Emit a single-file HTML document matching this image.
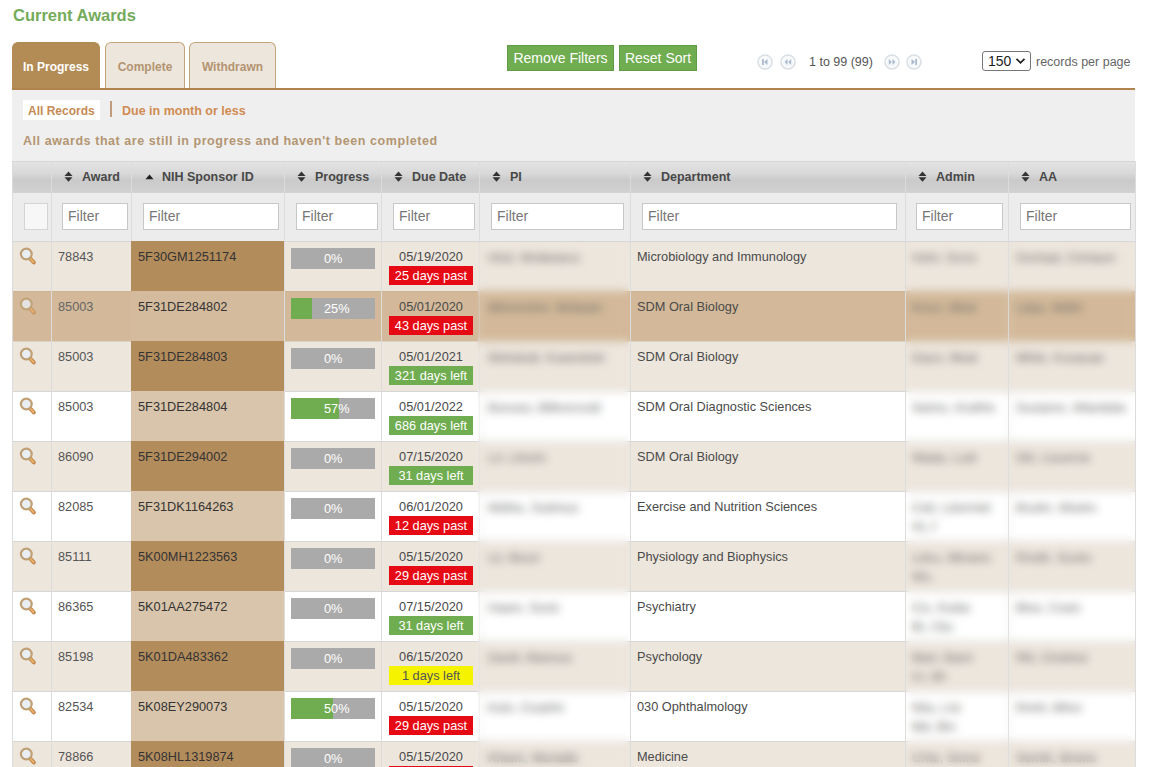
<!DOCTYPE html><html><head><meta charset="utf-8"><style>
*{box-sizing:border-box;margin:0;padding:0}
html,body{width:1150px;height:767px;overflow:hidden;background:#fff;font-family:"Liberation Sans",sans-serif}
div{position:absolute;white-space:nowrap}
svg{position:absolute}
#title{left:13px;top:6px;font-size:16.5px;font-weight:bold;color:#74ab5b}
.tab{top:42px;height:47px;border:1px solid #c2a47c;border-bottom:none;border-radius:6px 6px 0 0;background:#ede6dd;color:#b39470;font-weight:bold;font-size:12px;text-align:center;line-height:48px}
.tab.on{background:#b38b55;border-color:#b38b55;color:#fff}
.btn{top:45px;height:26px;background:#6fad50;border:1px solid #5f9a44;color:#fff;font-size:14px;line-height:24px;text-align:center}
.hd{top:161px;height:32px;background:linear-gradient(#e4e4e4,#d8d8d8 40%,#cacaca 60%,#d2d2d2)}
.ht{top:169px;font-size:12.5px;font-weight:bold;color:#484848;line-height:16px}
.flt{top:203px;height:27px;background:#fff;border:1px solid #c8c8c8;font-size:14px;color:#777;padding-left:5px;line-height:25px}
.row{left:12px;width:1123px;height:50px}
.cell{font-size:12.75px;color:#555;line-height:16px}
.bar{width:84px;height:21px;background:#aaa;overflow:hidden}
.bar i{position:absolute;left:0;top:0;height:21px;background:#6fad50}
.bar b{position:absolute;left:33px;top:0;color:#fff;font-weight:normal;font-size:12.75px;line-height:21px}
.badge{width:84px;height:19px;text-align:center;color:#fff;font-size:12.75px;line-height:19px}
.vl{width:1px;background:#dcdcdc}
.hl{left:12px;width:1123px;height:1px;background:#d6d6d6}
.bt{overflow:hidden;color:#6a6a6a}
</style></head><body>
<div id="title">Current Awards</div>
<div class="tab on" style="left:12px;width:88px">In Progress</div>
<div class="tab" style="left:105px;width:80px">Complete</div>
<div class="tab" style="left:189px;width:87px">Withdrawn</div>
<div style="left:12px;top:88px;width:1123px;height:2px;background:#b0844c"></div>
<div style="left:12px;top:90px;width:1123px;height:71px;background:#efefef"></div>
<div style="left:23px;top:100px;width:77px;height:20px;background:#fff"></div>
<div style="left:28px;top:103px;font-size:12px;font-weight:bold;color:#c68b55;line-height:16px">All Records</div>
<div style="left:110px;top:101px;width:2px;height:16px;background:#c09c7c"></div>
<div style="left:122px;top:103px;font-size:12.5px;font-weight:bold;color:#d08c52;line-height:16px">Due in month or less</div>
<div style="left:23px;top:133px;font-size:12.5px;font-weight:bold;color:#b39672;line-height:16px;letter-spacing:0.56px">All awards that are still in progress and haven&#39;t been completed</div>
<div class="btn" style="left:507px;width:107px">Remove Filters</div>
<div class="btn" style="left:619px;width:78px">Reset Sort</div>
<svg style="left:757px;top:54px" width="16" height="16"><circle cx="8" cy="8" r="7" fill="#f7f9fb" stroke="#dadfe4" stroke-width="1.5"/><rect x="5" y="5" width="1.8" height="6" fill="#aabbcf"/><polygon points="10.5,5 7,8 10.5,11" fill="#aabbcf"/></svg>
<svg style="left:780px;top:54px" width="16" height="16"><circle cx="8" cy="8" r="7" fill="#f7f9fb" stroke="#dadfe4" stroke-width="1.5"/><polygon points="7.5,5 4.5,8 7.5,11" fill="#aabbcf"/><polygon points="11.2,5 8.2,8 11.2,11" fill="#aabbcf"/></svg>
<svg style="left:884px;top:54px" width="16" height="16"><circle cx="8" cy="8" r="7" fill="#f7f9fb" stroke="#dadfe4" stroke-width="1.5"/><polygon points="4.8,5 7.8,8 4.8,11" fill="#aabbcf"/><polygon points="8.5,5 11.5,8 8.5,11" fill="#aabbcf"/></svg>
<svg style="left:906px;top:54px" width="16" height="16"><circle cx="8" cy="8" r="7" fill="#f7f9fb" stroke="#dadfe4" stroke-width="1.5"/><polygon points="5.5,5 9,8 5.5,11" fill="#aabbcf"/><rect x="9.2" y="5" width="1.8" height="6" fill="#aabbcf"/></svg>
<div style="left:809px;top:54px;font-size:12.5px;color:#555;line-height:16px">1 to 99 (99)</div>
<div style="left:982px;top:51px;width:49px;height:20px;border:1px solid #767676;border-radius:3px;background:#fff"></div>
<div style="left:988px;top:53px;font-size:14px;color:#222;line-height:16px">150</div>
<svg style="left:1015px;top:57px" width="12" height="8"><polyline points="1.5,1.8 5.5,5.8 9.5,1.8" fill="none" stroke="#222" stroke-width="1.8"/></svg>
<div style="left:1036px;top:54px;font-size:12.5px;color:#666;line-height:16px">records per page</div>
<div class="hd" style="left:12px;width:1123px"></div>
<div style="left:12px;top:193px;width:1123px;height:48px;background:#ececec"></div>
<div class="hl" style="top:161px"></div>
<div class="ht" style="left:82px">Award</div>
<svg style="left:64px;top:171px" width="9" height="12"><polygon points="0.5,5 4.5,0.6 8.5,5" fill="#333"/><polygon points="0.5,6.2 4.5,10.8 8.5,6.2" fill="#333"/></svg>
<div class="ht" style="left:162px">NIH Sponsor ID</div>
<svg style="left:145px;top:174px" width="9" height="6"><polygon points="0.5,5.2 4.5,0.5 8.5,5.2" fill="#222"/></svg>
<div class="ht" style="left:315px">Progress</div>
<svg style="left:297px;top:171px" width="9" height="12"><polygon points="0.5,5 4.5,0.6 8.5,5" fill="#333"/><polygon points="0.5,6.2 4.5,10.8 8.5,6.2" fill="#333"/></svg>
<div class="ht" style="left:412px">Due Date</div>
<svg style="left:394px;top:171px" width="9" height="12"><polygon points="0.5,5 4.5,0.6 8.5,5" fill="#333"/><polygon points="0.5,6.2 4.5,10.8 8.5,6.2" fill="#333"/></svg>
<div class="ht" style="left:510px">PI</div>
<svg style="left:492px;top:171px" width="9" height="12"><polygon points="0.5,5 4.5,0.6 8.5,5" fill="#333"/><polygon points="0.5,6.2 4.5,10.8 8.5,6.2" fill="#333"/></svg>
<div class="ht" style="left:661px">Department</div>
<svg style="left:643px;top:171px" width="9" height="12"><polygon points="0.5,5 4.5,0.6 8.5,5" fill="#333"/><polygon points="0.5,6.2 4.5,10.8 8.5,6.2" fill="#333"/></svg>
<div class="ht" style="left:936px">Admin</div>
<svg style="left:918px;top:171px" width="9" height="12"><polygon points="0.5,5 4.5,0.6 8.5,5" fill="#333"/><polygon points="0.5,6.2 4.5,10.8 8.5,6.2" fill="#333"/></svg>
<div class="ht" style="left:1039px">AA</div>
<svg style="left:1021px;top:171px" width="9" height="12"><polygon points="0.5,5 4.5,0.6 8.5,5" fill="#333"/><polygon points="0.5,6.2 4.5,10.8 8.5,6.2" fill="#333"/></svg>
<div class="flt" style="left:62px;width:66px">Filter</div>
<div class="flt" style="left:143px;width:136px">Filter</div>
<div class="flt" style="left:296px;width:82px">Filter</div>
<div class="flt" style="left:393px;width:82px">Filter</div>
<div class="flt" style="left:491px;width:133px">Filter</div>
<div class="flt" style="left:642px;width:255px">Filter</div>
<div class="flt" style="left:916px;width:87px">Filter</div>
<div class="flt" style="left:1020px;width:111px">Filter</div>
<div style="left:24px;top:203px;width:24px;height:27px;background:#f7f7f7;border:1px solid #d4d4d4"></div>
<div class="row" style="top:241px;background:#ede6dd"></div>
<div class="hl" style="top:241px;background:#d6d6d6"></div>
<div class="cell" style="left:58px;top:249px">78843</div>
<svg style="left:18px;top:247px" width="20" height="20"><line x1="11.6" y1="10.8" x2="15.8" y2="15.4" stroke="#c08a52" stroke-width="4" stroke-linecap="round"/><line x1="12.2" y1="11.5" x2="15.4" y2="15" stroke="#e9ad68" stroke-width="2" stroke-linecap="round"/><circle cx="8.3" cy="7" r="5.4" fill="#e9eef3" stroke="#bf9f74" stroke-width="2.2"/></svg>
<div class="bar" style="left:291px;top:248px"><i style="width:0px"></i><b>0%</b></div>
<div class="cell" style="left:382px;width:98px;text-align:center;top:249px;color:#4a4a4a">05/19/2020</div>
<div class="badge" style="left:389px;top:266px;background:#e60a14;color:#fff">25 days past</div>
<div class="cell" style="left:637px;top:249px;color:#4a4a4a">Microbiology and Immunology</div>
<div class="cell bt" style="left:488px;top:250px;width:92px">Htsil, Wrdtetarus</div>
<div class="cell bt" style="left:912px;top:250px;width:65px">Hohr, Ssrndio</div>
<div class="cell bt" style="left:1016px;top:250px;width:100px">Dsnhad, Cimtaumaurt</div>
<div class="row" style="top:291px;background:#d3b999"></div>
<div class="hl" style="top:291px;background:#cbb394"></div>
<div class="cell" style="left:58px;top:299px;color:#666">85003</div>
<svg style="left:18px;top:297px;opacity:.8" width="20" height="20"><line x1="11.6" y1="10.8" x2="15.8" y2="15.4" stroke="#c08a52" stroke-width="4" stroke-linecap="round"/><line x1="12.2" y1="11.5" x2="15.4" y2="15" stroke="#e9ad68" stroke-width="2" stroke-linecap="round"/><circle cx="8.3" cy="7" r="5.4" fill="#e9eef3" stroke="#bf9f74" stroke-width="2.2"/></svg>
<div class="bar" style="left:291px;top:298px"><i style="width:21px"></i><b>25%</b></div>
<div class="cell" style="left:382px;width:98px;text-align:center;top:299px;color:#4a4a4a">05/01/2020</div>
<div class="badge" style="left:389px;top:316px;background:#e60a14;color:#fff">43 days past</div>
<div class="cell" style="left:637px;top:299px;color:#4a4a4a">SDM Oral Biology</div>
<div class="cell bt" style="left:488px;top:300px;width:115px">Mhmnnhm, Wrileairoudn</div>
<div class="cell bt" style="left:912px;top:300px;width:65px">Knsn, Wlstnto</div>
<div class="cell bt" style="left:1016px;top:300px;width:66px">Ldau, Wdhihlst</div>
<div class="row" style="top:341px;background:#ede6dd"></div>
<div class="hl" style="top:341px;background:#ddd3c7"></div>
<div class="cell" style="left:58px;top:349px">85003</div>
<svg style="left:18px;top:347px" width="20" height="20"><line x1="11.6" y1="10.8" x2="15.8" y2="15.4" stroke="#c08a52" stroke-width="4" stroke-linecap="round"/><line x1="12.2" y1="11.5" x2="15.4" y2="15" stroke="#e9ad68" stroke-width="2" stroke-linecap="round"/><circle cx="8.3" cy="7" r="5.4" fill="#e9eef3" stroke="#bf9f74" stroke-width="2.2"/></svg>
<div class="bar" style="left:291px;top:348px"><i style="width:0px"></i><b>0%</b></div>
<div class="cell" style="left:382px;width:98px;text-align:center;top:349px;color:#4a4a4a">05/01/2021</div>
<div class="badge" style="left:389px;top:366px;background:#6fad50;color:#fff">321 days left</div>
<div class="cell" style="left:637px;top:349px;color:#4a4a4a">SDM Oral Biology</div>
<div class="cell bt" style="left:488px;top:350px;width:117px">Wehdodt, Kueerdrelmen</div>
<div class="cell bt" style="left:912px;top:350px;width:65px">Daun, Meattma</div>
<div class="cell bt" style="left:1016px;top:350px;width:88px">Mhtls, Ksoauaeets</div>
<div class="row" style="top:391px;background:#fff"></div>
<div class="hl" style="top:391px;background:#d6d6d6"></div>
<div class="cell" style="left:58px;top:399px">85003</div>
<svg style="left:18px;top:397px" width="20" height="20"><line x1="11.6" y1="10.8" x2="15.8" y2="15.4" stroke="#c08a52" stroke-width="4" stroke-linecap="round"/><line x1="12.2" y1="11.5" x2="15.4" y2="15" stroke="#e9ad68" stroke-width="2" stroke-linecap="round"/><circle cx="8.3" cy="7" r="5.4" fill="#e9eef3" stroke="#bf9f74" stroke-width="2.2"/></svg>
<div class="bar" style="left:291px;top:398px"><i style="width:48px"></i><b>57%</b></div>
<div class="cell" style="left:382px;width:98px;text-align:center;top:399px;color:#4a4a4a">05/01/2022</div>
<div class="badge" style="left:389px;top:416px;background:#6fad50;color:#fff">686 days left</div>
<div class="cell" style="left:637px;top:399px;color:#4a4a4a">SDM Oral Diagnostic Sciences</div>
<div class="cell bt" style="left:488px;top:400px;width:117px">Bonutui, Blllinnrsndt</div>
<div class="cell bt" style="left:912px;top:400px;width:83px">Setms, Kndhhounu</div>
<div class="cell bt" style="left:1016px;top:400px;width:109px">Suslamn, Wlanttdiadd</div>
<div class="row" style="top:441px;background:#ede6dd"></div>
<div class="hl" style="top:441px;background:#d6d6d6"></div>
<div class="cell" style="left:58px;top:449px">86090</div>
<svg style="left:18px;top:447px" width="20" height="20"><line x1="11.6" y1="10.8" x2="15.8" y2="15.4" stroke="#c08a52" stroke-width="4" stroke-linecap="round"/><line x1="12.2" y1="11.5" x2="15.4" y2="15" stroke="#e9ad68" stroke-width="2" stroke-linecap="round"/><circle cx="8.3" cy="7" r="5.4" fill="#e9eef3" stroke="#bf9f74" stroke-width="2.2"/></svg>
<div class="bar" style="left:291px;top:448px"><i style="width:0px"></i><b>0%</b></div>
<div class="cell" style="left:382px;width:98px;text-align:center;top:449px;color:#4a4a4a">07/15/2020</div>
<div class="badge" style="left:389px;top:466px;background:#6fad50;color:#fff">31 days left</div>
<div class="cell" style="left:637px;top:449px;color:#4a4a4a">SDM Oral Biology</div>
<div class="cell bt" style="left:488px;top:450px;width:59px">Lrl, Lthuhra</div>
<div class="cell bt" style="left:912px;top:450px;width:66px">Wada, Ludruttl</div>
<div class="cell bt" style="left:1016px;top:450px;width:75px">Dlil, Ltuumnema</div>
<div class="row" style="top:491px;background:#fff"></div>
<div class="hl" style="top:491px;background:#d6d6d6"></div>
<div class="cell" style="left:58px;top:499px">82085</div>
<svg style="left:18px;top:497px" width="20" height="20"><line x1="11.6" y1="10.8" x2="15.8" y2="15.4" stroke="#c08a52" stroke-width="4" stroke-linecap="round"/><line x1="12.2" y1="11.5" x2="15.4" y2="15" stroke="#e9ad68" stroke-width="2" stroke-linecap="round"/><circle cx="8.3" cy="7" r="5.4" fill="#e9eef3" stroke="#bf9f74" stroke-width="2.2"/></svg>
<div class="bar" style="left:291px;top:498px"><i style="width:0px"></i><b>0%</b></div>
<div class="cell" style="left:382px;width:98px;text-align:center;top:499px;color:#4a4a4a">06/01/2020</div>
<div class="badge" style="left:389px;top:516px;background:#e60a14;color:#fff">12 days past</div>
<div class="cell" style="left:637px;top:499px;color:#4a4a4a">Exercise and Nutrition Sciences</div>
<div class="cell bt" style="left:488px;top:500px;width:90px">Wdhiu, Sodmuolidn</div>
<div class="cell bt" style="left:912px;top:500px;width:79px">Cetl, Ldormielh</div>
<div class="cell bt" style="left:912px;top:519px;width:24px">Ht, Ruome</div>
<div class="cell bt" style="left:1016px;top:500px;width:80px">Bsolm, Wiulmdemt</div>
<div class="row" style="top:541px;background:#ede6dd"></div>
<div class="hl" style="top:541px;background:#d6d6d6"></div>
<div class="cell" style="left:58px;top:549px">85111</div>
<svg style="left:18px;top:547px" width="20" height="20"><line x1="11.6" y1="10.8" x2="15.8" y2="15.4" stroke="#c08a52" stroke-width="4" stroke-linecap="round"/><line x1="12.2" y1="11.5" x2="15.4" y2="15" stroke="#e9ad68" stroke-width="2" stroke-linecap="round"/><circle cx="8.3" cy="7" r="5.4" fill="#e9eef3" stroke="#bf9f74" stroke-width="2.2"/></svg>
<div class="bar" style="left:291px;top:548px"><i style="width:0px"></i><b>0%</b></div>
<div class="cell" style="left:382px;width:98px;text-align:center;top:549px;color:#4a4a4a">05/15/2020</div>
<div class="badge" style="left:389px;top:566px;background:#e60a14;color:#fff">29 days past</div>
<div class="cell" style="left:637px;top:549px;color:#4a4a4a">Physiology and Biophysics</div>
<div class="cell bt" style="left:488px;top:550px;width:52px">Lti, Musmur</div>
<div class="cell bt" style="left:912px;top:550px;width:79px">Ldnu, Mtnanioar</div>
<div class="cell bt" style="left:912px;top:569px;width:24px">Ws, Mshoa</div>
<div class="cell bt" style="left:1016px;top:550px;width:75px">Rmdh, Susloetue</div>
<div class="row" style="top:591px;background:#fff"></div>
<div class="hl" style="top:591px;background:#d6d6d6"></div>
<div class="cell" style="left:58px;top:599px">86365</div>
<svg style="left:18px;top:597px" width="20" height="20"><line x1="11.6" y1="10.8" x2="15.8" y2="15.4" stroke="#c08a52" stroke-width="4" stroke-linecap="round"/><line x1="12.2" y1="11.5" x2="15.4" y2="15" stroke="#e9ad68" stroke-width="2" stroke-linecap="round"/><circle cx="8.3" cy="7" r="5.4" fill="#e9eef3" stroke="#bf9f74" stroke-width="2.2"/></svg>
<div class="bar" style="left:291px;top:598px"><i style="width:0px"></i><b>0%</b></div>
<div class="cell" style="left:382px;width:98px;text-align:center;top:599px;color:#4a4a4a">07/15/2020</div>
<div class="badge" style="left:389px;top:616px;background:#6fad50;color:#fff">31 days left</div>
<div class="cell" style="left:637px;top:599px;color:#4a4a4a">Psychiatry</div>
<div class="cell bt" style="left:488px;top:600px;width:71px">Haam, Sontaarh</div>
<div class="cell bt" style="left:912px;top:600px;width:58px">Cis, Kodassn</div>
<div class="cell bt" style="left:912px;top:619px;width:41px">Bt, Cliusr</div>
<div class="cell bt" style="left:1016px;top:600px;width:64px">Bloo, Cseiomu</div>
<div class="row" style="top:641px;background:#ede6dd"></div>
<div class="hl" style="top:641px;background:#d6d6d6"></div>
<div class="cell" style="left:58px;top:649px">85198</div>
<svg style="left:18px;top:647px" width="20" height="20"><line x1="11.6" y1="10.8" x2="15.8" y2="15.4" stroke="#c08a52" stroke-width="4" stroke-linecap="round"/><line x1="12.2" y1="11.5" x2="15.4" y2="15" stroke="#e9ad68" stroke-width="2" stroke-linecap="round"/><circle cx="8.3" cy="7" r="5.4" fill="#e9eef3" stroke="#bf9f74" stroke-width="2.2"/></svg>
<div class="bar" style="left:291px;top:648px"><i style="width:0px"></i><b>0%</b></div>
<div class="cell" style="left:382px;width:98px;text-align:center;top:649px;color:#4a4a4a">06/15/2020</div>
<div class="badge" style="left:389px;top:666px;background:#f6f300;color:#555">1 days left</div>
<div class="cell" style="left:637px;top:649px;color:#4a4a4a">Psychology</div>
<div class="cell bt" style="left:488px;top:650px;width:84px">Dardt, Mamuoutss</div>
<div class="cell bt" style="left:912px;top:650px;width:60px">Marl, Bamiaea</div>
<div class="cell bt" style="left:912px;top:669px;width:34px">Cr, Bhess</div>
<div class="cell bt" style="left:1016px;top:650px;width:71px">Rlil, Clndntul</div>
<div class="row" style="top:691px;background:#fff"></div>
<div class="hl" style="top:691px;background:#d6d6d6"></div>
<div class="cell" style="left:58px;top:699px">82534</div>
<svg style="left:18px;top:697px" width="20" height="20"><line x1="11.6" y1="10.8" x2="15.8" y2="15.4" stroke="#c08a52" stroke-width="4" stroke-linecap="round"/><line x1="12.2" y1="11.5" x2="15.4" y2="15" stroke="#e9ad68" stroke-width="2" stroke-linecap="round"/><circle cx="8.3" cy="7" r="5.4" fill="#e9eef3" stroke="#bf9f74" stroke-width="2.2"/></svg>
<div class="bar" style="left:291px;top:698px"><i style="width:42px"></i><b>50%</b></div>
<div class="cell" style="left:382px;width:98px;text-align:center;top:699px;color:#4a4a4a">05/15/2020</div>
<div class="badge" style="left:389px;top:716px;background:#e60a14;color:#fff">29 days past</div>
<div class="cell" style="left:637px;top:699px;color:#4a4a4a">030 Ophthalmology</div>
<div class="cell bt" style="left:488px;top:700px;width:77px">Koln, Cisahhnme</div>
<div class="cell bt" style="left:912px;top:700px;width:49px">Wia, Lrtdms</div>
<div class="cell bt" style="left:912px;top:719px;width:43px">Md, Btnald</div>
<div class="cell bt" style="left:1016px;top:700px;width:67px">Rmhl, Mhnraoos</div>
<div class="row" style="top:741px;background:#ede6dd"></div>
<div class="hl" style="top:741px;background:#d6d6d6"></div>
<div class="cell" style="left:58px;top:749px">78866</div>
<svg style="left:18px;top:747px" width="20" height="20"><line x1="11.6" y1="10.8" x2="15.8" y2="15.4" stroke="#c08a52" stroke-width="4" stroke-linecap="round"/><line x1="12.2" y1="11.5" x2="15.4" y2="15" stroke="#e9ad68" stroke-width="2" stroke-linecap="round"/><circle cx="8.3" cy="7" r="5.4" fill="#e9eef3" stroke="#bf9f74" stroke-width="2.2"/></svg>
<div class="bar" style="left:291px;top:748px"><i style="width:0px"></i><b>0%</b></div>
<div class="cell" style="left:382px;width:98px;text-align:center;top:749px;color:#4a4a4a">05/15/2020</div>
<div class="badge" style="left:389px;top:766px;background:#e60a14;color:#fff">29 days past</div>
<div class="cell" style="left:637px;top:749px;color:#4a4a4a">Medicine</div>
<div class="cell bt" style="left:488px;top:750px;width:90px">Khtem, Moniallsmu</div>
<div class="cell bt" style="left:912px;top:750px;width:67px">Crhe, Smndehlt</div>
<div class="cell bt" style="left:1016px;top:750px;width:80px">Semth, Briomnase</div>
<div class="vl" style="left:12px;top:161px;height:606px"></div>
<div class="vl" style="left:51px;top:161px;height:606px"></div>
<div class="vl" style="left:131px;top:161px;height:606px"></div>
<div class="vl" style="left:284px;top:161px;height:606px"></div>
<div class="vl" style="left:381px;top:161px;height:606px"></div>
<div class="vl" style="left:479px;top:161px;height:606px"></div>
<div class="vl" style="left:630px;top:161px;height:606px"></div>
<div class="vl" style="left:905px;top:161px;height:606px"></div>
<div class="vl" style="left:1008px;top:161px;height:606px"></div>
<div class="vl" style="left:1135px;top:161px;height:606px"></div>
<div style="left:131px;top:241px;width:153px;height:50px;background:#b38c5c"></div>
<div style="left:131px;top:291px;width:153px;height:50px;background:#d4bb9d"></div>
<div style="left:131px;top:341px;width:153px;height:50px;background:#b38c5c"></div>
<div style="left:131px;top:391px;width:153px;height:50px;background:#d9c5ab"></div>
<div style="left:131px;top:441px;width:153px;height:50px;background:#b38c5c"></div>
<div style="left:131px;top:491px;width:153px;height:50px;background:#d9c5ab"></div>
<div style="left:131px;top:541px;width:153px;height:50px;background:#b38c5c"></div>
<div style="left:131px;top:591px;width:153px;height:50px;background:#d9c5ab"></div>
<div style="left:131px;top:641px;width:153px;height:50px;background:#b38c5c"></div>
<div style="left:131px;top:691px;width:153px;height:50px;background:#d9c5ab"></div>
<div style="left:131px;top:741px;width:153px;height:50px;background:#b38c5c"></div>
<div class="cell" style="left:138px;top:249px;color:#333">5F30GM1251174</div>
<div class="cell" style="left:138px;top:299px;color:#333">5F31DE284802</div>
<div class="cell" style="left:138px;top:349px;color:#333">5F31DE284803</div>
<div class="cell" style="left:138px;top:399px;color:#333">5F31DE284804</div>
<div class="cell" style="left:138px;top:449px;color:#333">5F31DE294002</div>
<div class="cell" style="left:138px;top:499px;color:#333">5F31DK1164263</div>
<div class="cell" style="left:138px;top:549px;color:#333">5K00MH1223563</div>
<div class="cell" style="left:138px;top:599px;color:#333">5K01AA275472</div>
<div class="cell" style="left:138px;top:649px;color:#333">5K01DA483362</div>
<div class="cell" style="left:138px;top:699px;color:#333">5K08EY290073</div>
<div class="cell" style="left:138px;top:749px;color:#333">5K08HL1319874</div>
<div style="left:477px;top:242px;width:152px;height:525px;backdrop-filter:blur(4px)"></div>
<div style="left:906px;top:242px;width:229px;height:525px;backdrop-filter:blur(4px)"></div>
<div style="left:1008px;top:241px;width:1px;height:526px;background:#dddddd;opacity:.85"></div>
</body></html>
